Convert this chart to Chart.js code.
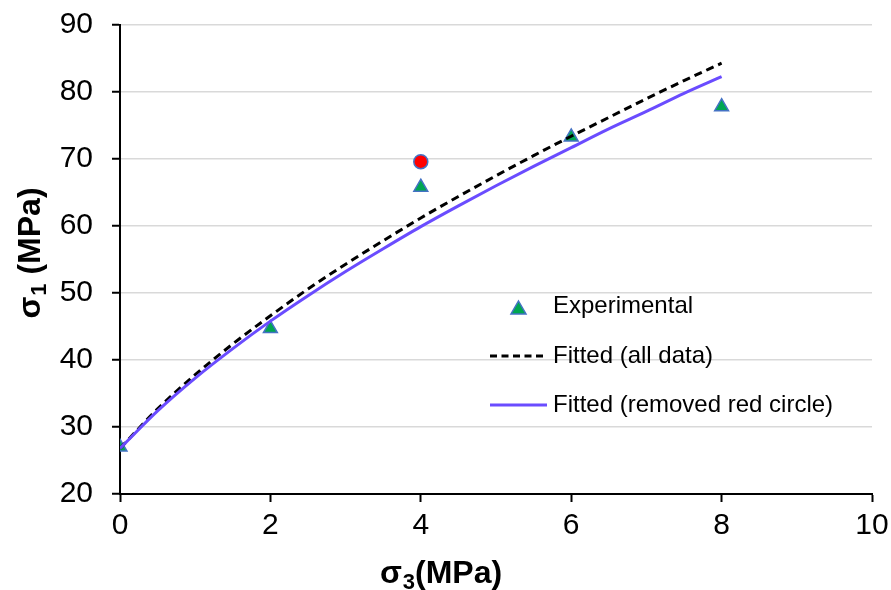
<!DOCTYPE html>
<html>
<head>
<meta charset="utf-8">
<script src="https://cdn.jsdelivr.net/npm/chart.js@4"></script>
<style>
  html, body { margin: 0; padding: 0; background: #fff; }
  #wrap { width: 891px; height: 590px; }
</style>
</head>
<body>
<div id="wrap"><canvas id="grafico"></canvas></div>
<script>
// datos
const sigma3Exp = [0, 2, 4, 6, 8];
const sigma1Exp = [27.0, 44.7, 65.8, 73.3, 77.8];
const sigma3Red = [4];
const sigma1Red = [69.6];
const sigma3Fit = [0, 0.5, 1, 1.5, 2, 2.5, 3, 3.5, 4, 4.5, 5, 5.5, 6, 6.5, 7, 7.5, 8];
const sigma1FitAll = [26.8, 32.7, 37.8, 42.4, 46.6, 50.6, 54.3, 57.8, 61.2, 64.4, 67.5, 70.5, 73.4, 76.2, 79.0, 81.7, 84.3];
const sigma1FitRed = [26.8, 32.4, 37.3, 41.7, 45.8, 49.6, 53.2, 56.6, 59.9, 63.0, 66.0, 68.9, 71.7, 74.5, 77.1, 79.8, 82.3];
const xTicks = [0, 2, 4, 6, 8, 10];
const yTicks = [20, 30, 40, 50, 60, 70, 80, 90];

const FUENTE = "'Liberation Sans', Arial, sans-serif";
const VERDE = '#00A651';
const AZUL_BORDE = '#4472C4';
const MORADO = '#6A4CFF';

function puntos(xs, ys) {
    return xs.map((x, i) => ({ x: x, y: ys[i] }));
}

// titulo con subindice: sigma + numero + resto
function tituloConSubindice(ctx, x, y, sub, resto) {
    ctx.font = 'bold 32px ' + FUENTE;
    ctx.fillText('σ', x, y);
    x += ctx.measureText('σ').width + 1;
    ctx.font = 'bold 22px ' + FUENTE;
    ctx.fillText(sub, x, y + 6);
    x += ctx.measureText(sub).width;
    ctx.font = 'bold 32px ' + FUENTE;
    ctx.fillText(resto, x, y);
}

function anchoTitulo(ctx, sub, resto) {
    ctx.font = 'bold 32px ' + FUENTE;
    let w = ctx.measureText('σ').width + 1 + ctx.measureText(resto).width;
    ctx.font = 'bold 22px ' + FUENTE;
    return w + ctx.measureText(sub).width;
}

// titulos de ejes y leyenda dentro del area del grafico
const extras = {
    id: 'extras',
    afterDatasetsDraw(chart) {
        const ctx = chart.ctx;
        ctx.save();
        ctx.fillStyle = '#000';
        ctx.textBaseline = 'alphabetic';
        ctx.textAlign = 'left';

        // titulo eje x
        const wx = anchoTitulo(ctx, '3', '(MPa)');
        tituloConSubindice(ctx, 441 - wx / 2, 583, '3', '(MPa)');

        // titulo eje y (rotado)
        const wy = anchoTitulo(ctx, '1', ' (MPa)');
        ctx.save();
        ctx.translate(40, 253);
        ctx.rotate(-Math.PI / 2);
        tituloConSubindice(ctx, -wy / 2, 0, '1', ' (MPa)');
        ctx.restore();

        // leyenda
        ctx.font = '24px ' + FUENTE;
        ctx.beginPath();
        ctx.moveTo(518.5, 301);
        ctx.lineTo(526, 314);
        ctx.lineTo(511, 314);
        ctx.closePath();
        ctx.fillStyle = VERDE;
        ctx.fill();
        ctx.strokeStyle = AZUL_BORDE;
        ctx.lineWidth = 1.5;
        ctx.stroke();
        ctx.fillStyle = '#000';
        ctx.fillText('Experimental', 553, 313);

        ctx.beginPath();
        ctx.setLineDash([7, 4.5]);
        ctx.strokeStyle = '#000';
        ctx.lineWidth = 3;
        ctx.moveTo(490, 356);
        ctx.lineTo(547, 356);
        ctx.stroke();
        ctx.fillText('Fitted (all data)', 553, 363);

        ctx.beginPath();
        ctx.setLineDash([]);
        ctx.strokeStyle = MORADO;
        ctx.moveTo(490, 405);
        ctx.lineTo(547, 405);
        ctx.stroke();
        ctx.fillText('Fitted (removed red circle)', 553, 412);
        ctx.restore();
    }
};

const ctx = document.getElementById('grafico').getContext('2d');
new Chart(ctx, {
    type: 'scatter',
    data: {
        datasets: [
            {
                label: 'Fitted (all data)',
                data: puntos(sigma3Fit, sigma1FitAll),
                showLine: true,
                borderColor: '#000',
                borderWidth: 3,
                borderDash: [8, 5],
                pointRadius: 0,
                cubicInterpolationMode: 'monotone',
                order: 1
            },
            {
                label: 'Fitted (removed red circle)',
                data: puntos(sigma3Fit, sigma1FitRed),
                showLine: true,
                borderColor: MORADO,
                borderWidth: 3,
                pointRadius: 0,
                cubicInterpolationMode: 'monotone',
                order: 0
            },
            {
                label: 'Experimental',
                data: puntos(sigma3Exp, sigma1Exp),
                pointStyle: 'triangle',
                pointRadius: 8,
                backgroundColor: VERDE,
                borderColor: AZUL_BORDE,
                borderWidth: 1.5,
                order: 2
            },
            {
                label: 'Removed',
                data: puntos(sigma3Red, sigma1Red),
                pointStyle: 'circle',
                pointRadius: 7,
                backgroundColor: '#FF0000',
                borderColor: AZUL_BORDE,
                borderWidth: 1.5,
                order: 2
            }
        ]
    },
    options: {
        responsive: true,
        maintainAspectRatio: false,
        animation: false,
        layout: { padding: { top: 25, right: 19, left: 0, bottom: 0 } },
        plugins: {
            legend: { display: false },
            tooltip: { enabled: false }
        },
        scales: {
            x: {
                type: 'linear',
                min: 0,
                max: 10,
                afterBuildTicks: s => { s.ticks = xTicks.map(v => ({ value: v })); },
                afterFit: s => { s.height = 96; s.paddingLeft = 0; s.paddingRight = 0; },
                grid: { display: true, drawOnChartArea: false, tickLength: 8, tickColor: '#000', tickWidth: 2 },
                border: { color: '#000', width: 2 },
                ticks: { color: '#000', font: { family: FUENTE, size: 30 }, padding: 6 }
            },
            y: {
                type: 'linear',
                min: 20,
                max: 90,
                afterBuildTicks: s => { s.ticks = yTicks.map(v => ({ value: v })); },
                afterFit: s => { s.width = 120; s.paddingTop = 0; s.paddingBottom = 0; },
                grid: { color: '#D9D9D9', lineWidth: 1.5, tickLength: 8, tickColor: '#000', tickWidth: 2 },
                border: { color: '#000', width: 2 },
                ticks: { color: '#000', font: { family: FUENTE, size: 30 }, padding: 19 }
            }
        }
    },
    plugins: [extras]
});
</script>
</body>
</html>
